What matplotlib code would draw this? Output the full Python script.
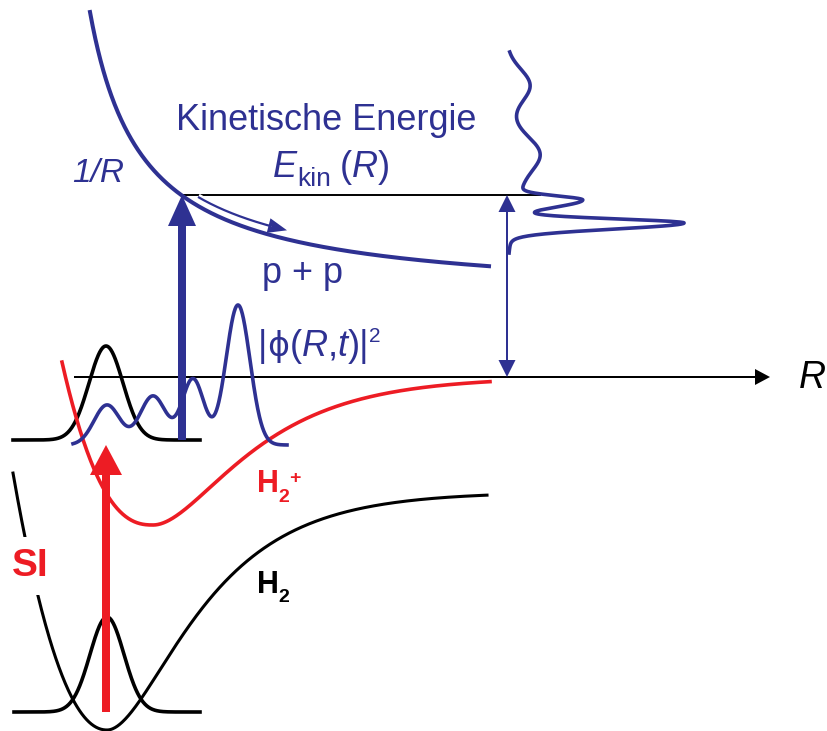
import numpy as np
import matplotlib
matplotlib.use('Agg')
import matplotlib.pyplot as plt
import matplotlib.patheffects as pe

W, H = 828, 731
BLUE = '#2E3192'
RED = '#ED1C24'
BLACK = '#000000'
FONT = 'Liberation Sans'

# ---------------- schematic parameters (pixel space) ----
axis_y = 377
axis_x = [74, 770]

# 1/R Coulomb curve: y = a - b / (x - c)
coulomb_x = [90, 489]
coulomb_abc = [299.3, 14938.0, 38.0]

# H2 potential: minimum, asymptote, right-side Morse exponent, left wall (k, p)
h2_x = [13, 487]
h2_min = [107, 730]
h2_asym = 492
h2_morse_a = 0.0132
h2_left = [0.01846, 2.1]

# H2+ potential
h2p_x = [62, 490]
h2p_min = [153, 525]
h2p_asym = 377
h2p_morse_a = 0.0123
h2p_left = [0.00247, 2.46]

# vibrational ground-state packets: centre, baseline, height, width
gs_lower_x = [14, 200]
gs_lower = [107, 712, 95, 17]
gs_upper_x = [13, 200]
gs_upper = [106, 440, 94, 17]

# |phi(R,t)|^2 wave packet
wp_x = [73, 287]
wp_base = 445
wp_centers = [107, 153, 193, 238]
wp_heights = [40, 49, 66, 140]
wp_sigmas = [13, 13, 11, 12]

# kinetic energy distribution (drawn sideways)
ke_y = [52, 253]
ke_base = 507
ke_centers = [85, 153, 175, 200, 223]
ke_heights = [22, 21, 14, 64, 170]
ke_sig_up = [16, 16, 40, 4, 4]
ke_sig_down = [16, 16, 40, 7, 6]

# arrows
ion_arrow = [182, 440, 195]      # x, y_from, y_to (blue thick)
si_arrow = [106, 712, 445]       # red SI arrow
ekin_arrow = [507, 195, 377]     # double arrow
level_line = [181, 540, 195]     # x0, x1, y
thin_arrow_x = [198, 287]
thin_arrow_offset = 9

# ---------------- figure ----------------
fig = plt.figure(figsize=(W / 100, H / 100), dpi=100)
ax = fig.add_axes([0, 0, 1, 1])
ax.set_xlim(0, W)
ax.set_ylim(H, 0)
ax.axis('off')


def coulomb(x):
    a, b, c = coulomb_abc
    return a - b / (x - c)


def potential(x, xmin, asym, a, left):
    xe, ye = xmin
    De = ye - asym
    y = np.empty_like(x)
    r = x >= xe
    e = np.exp(-a * (x[r] - xe))
    y[r] = asym + De * (1 - (1 - e) ** 2)
    k, p = left
    y[~r] = ye - k * (xe - x[~r]) ** p
    return y


def gauss(x, c, h, s):
    return h * np.exp(-(x - c) ** 2 / (2 * s ** 2))


# potentials
x = np.linspace(*h2_x, 600)
ax.plot(x, potential(x, h2_min, h2_asym, h2_morse_a, h2_left), color=BLACK, lw=2.2, zorder=2)
x = np.linspace(*h2p_x, 600)
ax.plot(x, potential(x, h2p_min, h2p_asym, h2p_morse_a, h2p_left), color=RED, lw=2.6, zorder=3)

# ground state packets
for rng, (c, base, h, s) in [(gs_lower_x, gs_lower), (gs_upper_x, gs_upper)]:
    x = np.linspace(*rng, 400)
    ax.plot(x, base - gauss(x, c, h, s), color=BLACK, lw=2.6, zorder=2)

# wave packet
x = np.linspace(*wp_x, 600)
hwp = sum(gauss(x, c, h, s) for c, h, s in zip(wp_centers, wp_heights, wp_sigmas))
ax.plot(x, wp_base - hwp, color=BLUE, lw=2.6, zorder=4)

# kinetic energy distribution
y = np.linspace(*ke_y, 800)
g = np.zeros_like(y)
for c, h, su, sd in zip(ke_centers, ke_heights, ke_sig_up, ke_sig_down):
    s = np.where(y < c, su, sd)
    g += h * np.exp(-(y - c) ** 2 / (2 * s ** 2))
ax.plot(ke_base + g, y, color=BLUE, lw=2.6, zorder=3)

# 1/R curve
x = np.linspace(*coulomb_x, 600)
ax.plot(x, coulomb(x), color=BLUE, lw=2.9, zorder=3)

# horizontal level line
ax.plot(level_line[:2], [level_line[2]] * 2, color=BLACK, lw=1.4, zorder=2)

# R axis
ax.arrow(axis_x[0], axis_y, axis_x[1] - axis_x[0], 0, width=2, head_width=16,
         head_length=15, length_includes_head=True, color=BLACK, lw=0, zorder=2)

# thick vertical arrows
ax.arrow(ion_arrow[0], ion_arrow[1], 0, ion_arrow[2] - ion_arrow[1], width=8,
         head_width=28, head_length=31, length_includes_head=True, color=BLUE, lw=0, zorder=6)
ax.arrow(si_arrow[0], si_arrow[1], 0, si_arrow[2] - si_arrow[1], width=8,
         head_width=32, head_length=30, length_includes_head=True, color=RED, lw=0, zorder=6)

# double arrow E_kin
mid = (ekin_arrow[1] + ekin_arrow[2]) / 2
for end in ekin_arrow[1:]:
    ax.arrow(ekin_arrow[0], mid, 0, end - mid, width=2, head_width=17, head_length=17,
             length_includes_head=True, color=BLUE, lw=0, zorder=5)

# thin curved arrow along 1/R
x = np.linspace(*thin_arrow_x, 200)
yt = coulomb(x) - thin_arrow_offset
stroke = [pe.withStroke(linewidth=5, foreground='white')]
cut = x <= thin_arrow_x[1] - 15
ax.plot(x[cut], yt[cut], color=BLUE, lw=1.6, zorder=5, path_effects=stroke,
        solid_capstyle='butt')
dx = x[-1] - x[cut][-1]
dy = yt[-1] - yt[cut][-1]
ax.arrow(x[cut][-1], yt[cut][-1], dx, dy, width=0.5, head_width=15, head_length=19,
         length_includes_head=True, color=BLUE, lw=0, zorder=5)

# ---------------- text ----------------
fig.canvas.draw()
renderer = fig.canvas.get_renderer()


def rich(x0, y0, pieces, color, zorder=7):
    xx = x0
    for piece in pieces:
        s, size = piece[0], piece[1]
        opts = piece[2] if len(piece) > 2 else {}
        dy = opts.get('dy', 0)
        t = ax.text(xx + opts.get('dx', 0), y0 + dy, s, fontsize=size,
                    family=opts.get('family', FONT), style=opts.get('style', 'normal'),
                    weight=opts.get('weight', 'normal'), color=color,
                    va='baseline', ha='left', zorder=zorder)
        bb = t.get_window_extent(renderer=renderer)
        xx += bb.width + opts.get('dx', 0)


ax.text(326, 130, 'Kinetische Energie', fontsize=26, family=FONT, color=BLUE,
        ha='center', va='baseline')
rich(273, 177, [('E', 26, {'style': 'italic'}),
                ('kin', 19, {'dy': 9}),
                ('(', 26, {'dx': 9}),
                ('R', 26, {'style': 'italic'}),
                (')', 26)], BLUE)
ax.text(72, 182, '1/R', fontsize=24, family=FONT, style='italic', color=BLUE,
        ha='left', va='baseline')
ax.text(262, 283, 'p + p', fontsize=26, family=FONT, color=BLUE, ha='left', va='baseline')
rich(258, 356, [('|', 26),
                ('\u03d5', 24, {'family': 'DejaVu Sans'}),
                ('(', 26),
                ('R', 26, {'style': 'italic'}),
                (',', 26),
                ('t', 26, {'style': 'italic'}),
                (')|', 26),
                ('2', 15, {'dy': -14})], BLUE)
ax.text(799, 388, 'R', fontsize=27, family=FONT, style='italic', color=BLACK,
        ha='left', va='baseline')
rich(257, 492, [('H', 22, {'weight': 'bold'}),
                ('2', 14, {'weight': 'bold', 'dy': 10}),
                ('+', 14, {'weight': 'bold', 'dy': -9})], RED)
rich(257, 593, [('H', 22, {'weight': 'bold'}),
                ('2', 14, {'weight': 'bold', 'dy': 9})], BLACK)
ax.text(12, 576, 'SI', fontsize=28, family=FONT, weight='bold', color=RED,
        ha='left', va='baseline', zorder=8,
        bbox=dict(facecolor='white', edgecolor='none', pad=8))

fig.savefig('out.png', dpi=100)
